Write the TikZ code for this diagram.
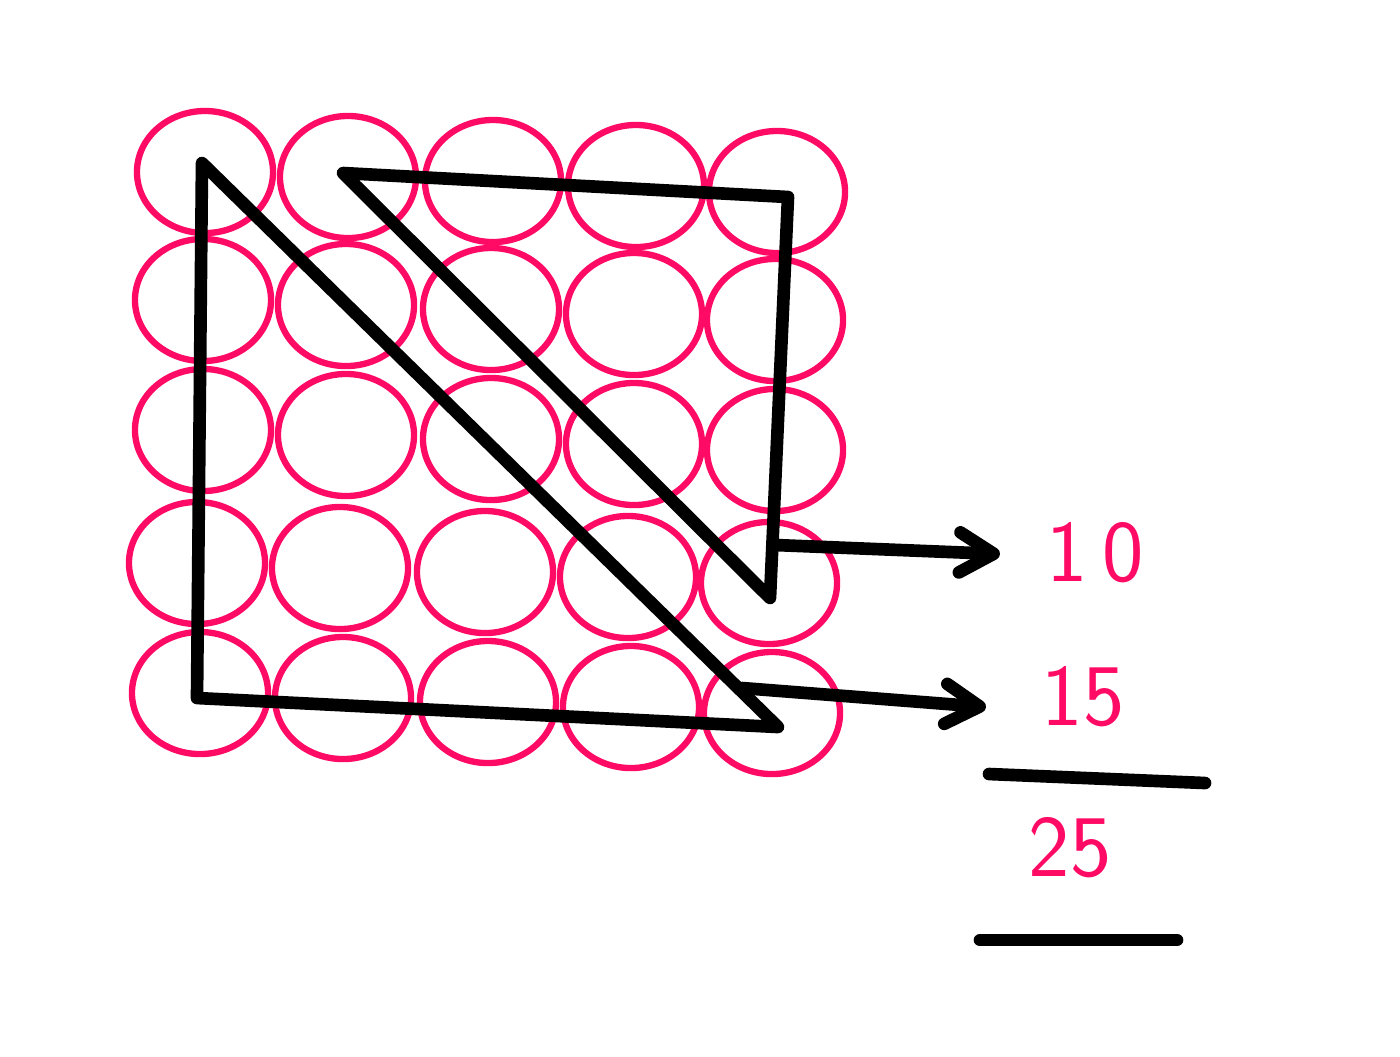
\documentclass[tikz,border=0pt]{standalone}
\usepackage{tikz}
\usetikzlibrary{shapes.geometric}
\usetikzlibrary{arrows.meta}
\definecolor{hotpink}{HTML}{FF0A64}
\tikzset{ring/.style={draw=hotpink,line width=1.8pt,ellipse,
                      minimum width=1.36cm,minimum height=1.22cm,inner sep=0pt}}
\tikzset{stroke/.style={draw=black,line width=3.6pt,line cap=round,line join=round}}
\tikzset{pointer/.style={stroke,-{Straight Barb[round,length=0.34cm,width=0.4cm]}}}
\tikzset{number/.style={text=hotpink,font=\sffamily\fontsize{25}{30}\selectfont}}

\begin{document}
\begin{tikzpicture}[x=0.01cm,y=-0.01cm]
    \useasboundingbox (0,0) rectangle (1400,1056);

    % grid of rings
    \foreach \rx/\ry [count=\r] in {205/172,203/300,203/430,197/563,200/693}{
      \foreach \dx/\dy [count=\c] in {0/0,143/5,288/9,431/14,572/20}{
        \node[ring] (c\r\c) at (\rx+\dx,\ry+\dy) {};
      }
    }

    % big triangle
    \coordinate (t1a) at (202,163);
    \coordinate (t1b) at (197,698);
    \coordinate (t1c) at (778,727);
    \draw[stroke] (t1a) -- (t1b) -- (t1c) -- cycle;

    % small triangle
    \coordinate (t2a) at (343,173);
    \coordinate (t2b) at (788,197);
    \coordinate (t2c) at (770,598);
    \draw[stroke] (t2a) -- (t2b) -- (t2c) -- cycle;

    % numbers
    \node[number] (n10) at (1095,553) {1\,0};
    \node[number] (n15) at (1083,697) {15};
    \node[number] (n25) at (1070,848) {25};

    % arrows
    \coordinate (s10) at (775,545);
    \coordinate (e10) at (1000,554);
    \coordinate (s15) at (742,688);
    \coordinate (e15) at (986,707);
    \draw[pointer] (s10) -- (e10);
    \draw[pointer] (s15) -- (e15);

    % sum lines
    \coordinate (l1a) at (989,774);
    \coordinate (l1b) at (1205,783);
    \coordinate (l2a) at (980,940);
    \coordinate (l2b) at (1177,940);
    \draw[stroke] (l1a) -- (l1b);
    \draw[stroke] (l2a) -- (l2b);
\end{tikzpicture}
\end{document}
